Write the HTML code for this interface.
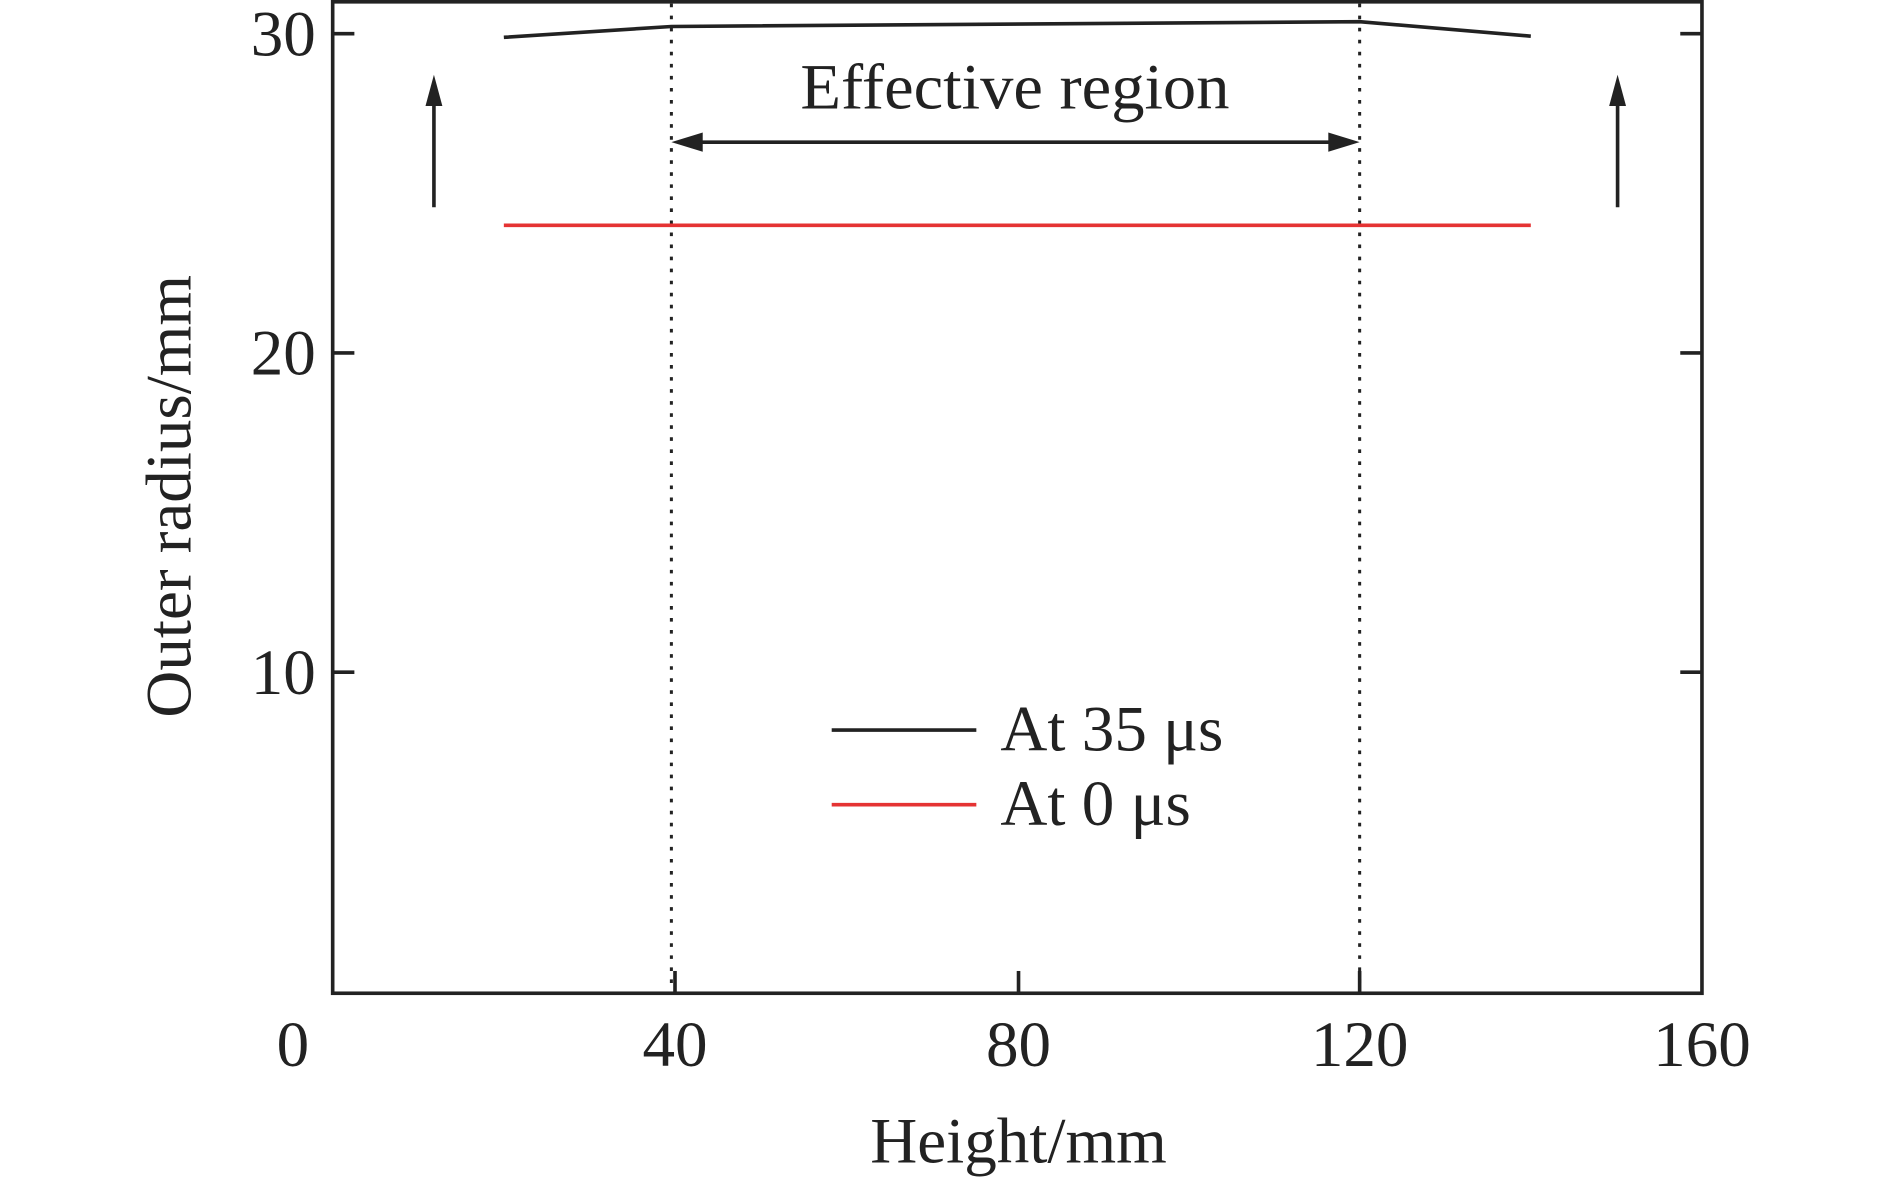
<!DOCTYPE html>
<html><head><meta charset="utf-8"><style>html,body{margin:0;padding:0;background:#fff}svg{display:block}</style></head>
<body>
<svg width="1890" height="1183" viewBox="0 0 1568 982" preserveAspectRatio="none" xmlns="http://www.w3.org/2000/svg" font-family="'Liberation Serif', serif" fill="#222">
<rect x="276" y="1.5" width="1136" height="823" fill="none" stroke="#222" stroke-width="3"/>
<g stroke="#222" stroke-width="3">
<line x1="276" y1="28" x2="294" y2="28"/><line x1="276" y1="293" x2="294" y2="293"/><line x1="276" y1="558" x2="294" y2="558"/>
<line x1="1412" y1="28" x2="1394" y2="28"/><line x1="1412" y1="293" x2="1394" y2="293"/><line x1="1412" y1="558" x2="1394" y2="558"/>
<line x1="560" y1="824" x2="560" y2="806"/><line x1="845" y1="824" x2="845" y2="806"/><line x1="1128" y1="824" x2="1128" y2="806"/>
</g>
<g stroke="#222" stroke-width="2.5" stroke-dasharray="3,7">
<line x1="557" y1="3" x2="557" y2="823"/><line x1="1128" y1="3" x2="1128" y2="823"/>
</g>
<polyline points="418,31 557,22 1128,18 1270,30" fill="none" stroke="#222" stroke-width="3"/>
<line x1="418" y1="187" x2="1270" y2="187" stroke="#e53333" stroke-width="3"/>
<line x1="575" y1="118" x2="1110" y2="118" stroke="#222" stroke-width="3"/>
<path d="M557,118 L583,110 L583,126 z"/><path d="M1128,118 L1102,110 L1102,126 z"/>
<path d="M360,172 L360,75" stroke="#222" stroke-width="3"/><path d="M353,88 L360,62 L367,88 z"/>
<path d="M1342,172 L1342,75" stroke="#222" stroke-width="3"/><path d="M1335,88 L1342,62 L1349,88 z"/>
<line x1="690" y1="606" x2="810" y2="606" stroke="#222" stroke-width="3"/>
<line x1="690" y1="668" x2="810" y2="668" stroke="#e53333" stroke-width="3"/>
<g font-size="54">
<text x="664" y="90" textLength="356" lengthAdjust="spacingAndGlyphs">Effective region</text>
<text x="830" y="623">At 35 μs</text>
<text x="830" y="685">At 0 μs</text>
<text x="262" y="46" text-anchor="end">30</text>
<text x="262" y="311" text-anchor="end">20</text>
<text x="262" y="576" text-anchor="end">10</text>
<text x="243" y="885" text-anchor="middle">0</text>
<text x="560" y="885" text-anchor="middle">40</text>
<text x="845" y="885" text-anchor="middle">80</text>
<text x="1128" y="885" text-anchor="middle">120</text>
<text x="1412" y="885" text-anchor="middle">160</text>
<text x="845" y="965" text-anchor="middle">Height/mm</text>
<text transform="translate(158,412) rotate(-90)" text-anchor="middle">Outer radius/mm</text>
</g>
</svg>
</body></html>
